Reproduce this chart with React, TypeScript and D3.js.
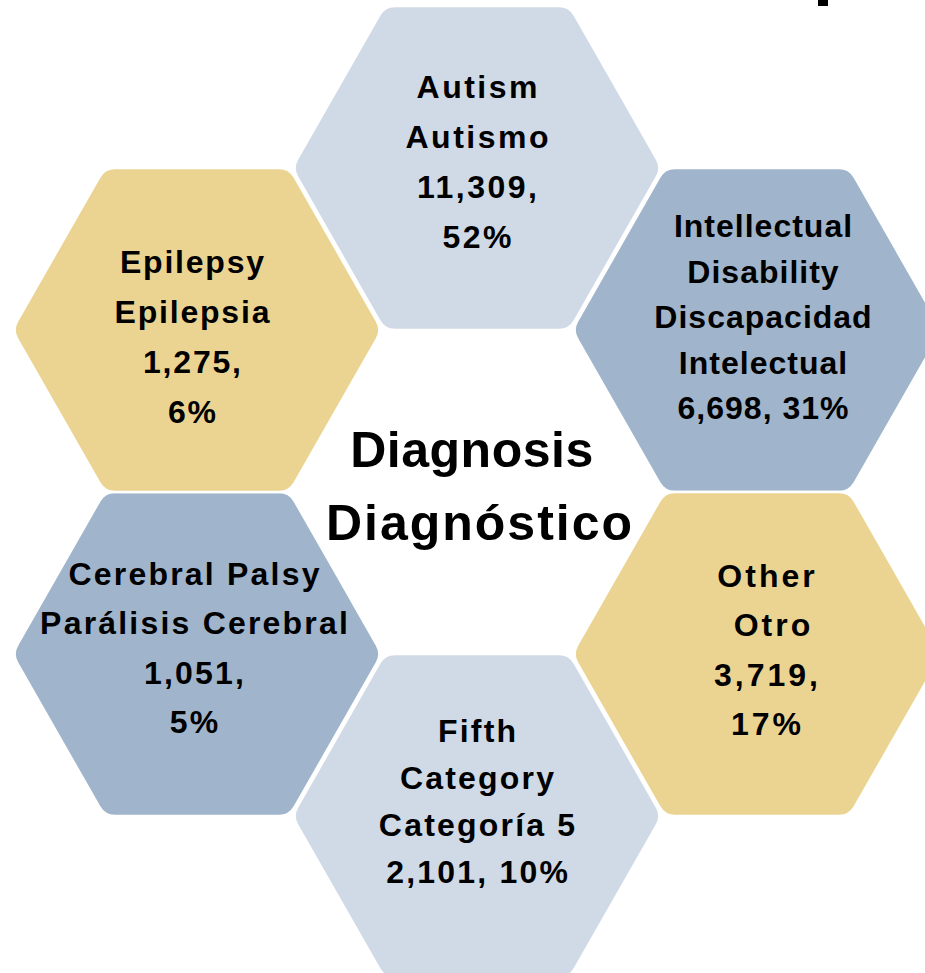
import React from "react";
import * as d3 from "d3";

// ---- data ----
const labelsEn: string[][] = [
  ["Autism"],
  ["Intellectual", "Disability"],
  ["Other"],
  ["Fifth", "Category"],
  ["Cerebral Palsy"],
  ["Epilepsy"],
];
const labelsEs: string[][] = [
  ["Autismo"],
  ["Discapacidad", "Intelectual"],
  [" Otro"],
  ["Categoría 5"],
  ["Parálisis Cerebral"],
  ["Epilepsia"],
];
const counts: number[] = [11309, 6698, 3719, 2101, 1051, 1275];
const percents: number[] = [52, 31, 17, 10, 5, 6];
const valueOnOneLine: boolean[] = [false, true, false, true, false, false];
const centerTitle: string[] = ["Diagnosis", "Diagnóstico"];

// ---- layout / style (not data) ----
const layout = [
  { col: 1, row: 0, fill: "#CFDAE6", dx: 0, dy: 5, lineH: 50, ls: 2.5 },
  { col: 2, row: 1, fill: "#A0B5CB", dx: 6, dy: -2, lineH: 45.5, ls: 1 },
  { col: 2, row: 3, fill: "#EBD492", dx: 9, dy: 7, lineH: 49.5, ls: 3 },
  { col: 1, row: 4, fill: "#CFDAE6", dx: 0, dy: -3.5, lineH: 47, ls: 2.2 },
  { col: 0, row: 3, fill: "#A0B5CB", dx: -3, dy: 5, lineH: 49.5, ls: 2.2 },
  { col: 0, row: 1, fill: "#EBD492", dx: -5, dy: 18, lineH: 50, ls: 1.8 },
];

const W = 925;
const H = 973;
const RX = 185;
const RY = 162;
const CORNER = 18;
const FONT = "'Liberation Sans', Arial, Helvetica, sans-serif";

const xScale = d3.scaleLinear().domain([0, 2]).range([197, 757]);
const yScale = d3.scaleLinear().domain([0, 4]).range([168, 816]);
const fmt = d3.format(",");

function roundedHex(cx: number, cy: number, rx: number, ry: number, r: number) {
  const v: [number, number][] = [
    [cx + rx, cy],
    [cx + rx / 2, cy + ry],
    [cx - rx / 2, cy + ry],
    [cx - rx, cy],
    [cx - rx / 2, cy - ry],
    [cx + rx / 2, cy - ry],
  ];
  const p = d3.path();
  const n = v.length;
  const mid = (a: [number, number], b: [number, number]) => [(a[0] + b[0]) / 2, (a[1] + b[1]) / 2];
  const start = mid(v[n - 1], v[0]);
  p.moveTo(start[0], start[1]);
  for (let i = 0; i < n; i++) {
    const cur = v[i];
    const next = v[(i + 1) % n];
    const m = mid(cur, next);
    p.arcTo(cur[0], cur[1], m[0], m[1], r);
  }
  p.closePath();
  return p.toString();
}

function linesFor(i: number): string[] {
  const c = fmt(counts[i]) + ",";
  const pc = percents[i] + "%";
  const vals = valueOnOneLine[i] ? [c + " " + pc] : [c, pc];
  return [...labelsEn[i], ...labelsEs[i], ...vals];
}

export default function App() {
  return (
    <svg
      width={W}
      height={H}
      viewBox={`0 0 ${W} ${H}`}
      style={{ position: "absolute", left: 0, top: 0, background: "#ffffff" }}
    >
      <rect x={0} y={0} width={W} height={H} fill="#ffffff" />
      {layout.map((l, i) => {
        const cx = xScale(l.col);
        const cy = yScale(l.row);
        return (
          <path
            key={"h" + i}
            d={roundedHex(cx, cy, RX, RY, CORNER)}
            fill={l.fill}
            stroke="#ffffff"
            strokeWidth={2.5}
          />
        );
      })}
      {layout.map((l, i) => {
        const cx = xScale(l.col) + l.dx;
        const cy = yScale(l.row) + l.dy;
        const lines = linesFor(i);
        const n = lines.length;
        return (
          <text
            key={"t" + i}
            textAnchor="middle"
            fontFamily={FONT}
            fontWeight="bold"
            fontSize={32}
            fill="#000000"
            style={{ letterSpacing: `${l.ls}px`, whiteSpace: "pre" }}
          >
            {lines.map((s, j) => (
              <tspan key={j} x={cx + l.ls / 2} y={cy + (j - (n - 1) / 2) * l.lineH}>
                {s}
              </tspan>
            ))}
          </text>
        );
      })}
      <text
        textAnchor="middle"
        fontFamily={FONT}
        fontWeight="bold"
        fontSize={50}
        fill="#000000"
      >
        <tspan x={472} y={467} style={{ letterSpacing: "0.5px" }}>
          {centerTitle[0]}
        </tspan>
        <tspan x={480} y={540} style={{ letterSpacing: "2px" }}>
          {centerTitle[1]}
        </tspan>
      </text>
      <rect x={818} y={0} width={10} height={6} fill="#000000" />
    </svg>
  );
}
